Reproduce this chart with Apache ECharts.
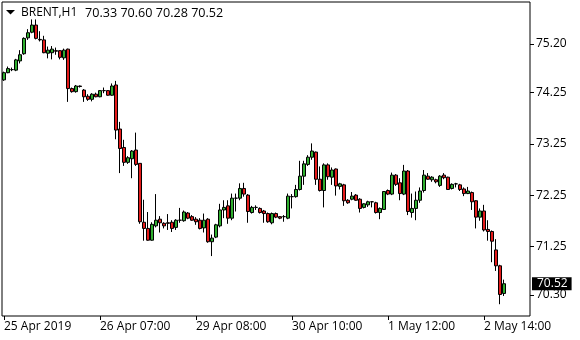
<!DOCTYPE html>
<html><head><meta charset="utf-8">
<script src="https://cdn.jsdelivr.net/npm/echarts@6/dist/echarts.min.js"></script>
<style>html,body{margin:0;padding:0;background:#fff}#c{width:580px;height:340px}</style>
</head><body><div id="c"></div>
<script>
const symbolName = 'BRENT,H1';
const opens = [74.50,74.64,74.70,74.69,74.87,75.01,75.32,75.43,75.57,75.29,75.28,75.02,75.03,75.07,75.07,74.93,75.10,74.33,74.27,74.38,74.30,74.18,74.12,74.22,74.17,74.29,74.29,74.20,74.40,73.54,73.18,72.89,72.96,73.13,72.87,71.72,71.60,71.37,71.65,71.78,71.70,71.71,71.72,71.62,71.76,71.75,71.90,71.83,71.78,71.76,71.61,71.78,71.34,71.43,71.65,71.96,72.04,71.80,72.19,72.19,72.38,72.25,71.91,72.01,71.99,71.94,71.89,71.71,71.89,71.83,71.83,71.80,72.22,72.22,72.36,72.62,72.85,72.99,73.09,72.56,72.34,72.84,72.60,72.76,72.42,72.45,72.15,72.17,72.25,72.17,72.01,72.06,72.12,72.10,71.91,71.97,72.34,72.27,72.64,72.49,72.27,72.72,71.91,71.99,72.15,72.34,72.62,72.55,72.55,72.44,72.64,72.60,72.38,72.47,72.45,72.37,72.28,72.30,72.14,71.82,71.94,71.58,71.54,71.18,70.87,70.33];
const highs = [74.66,74.76,74.74,74.91,75.08,75.33,75.49,75.68,75.68,75.45,75.36,75.15,75.16,75.13,75.08,75.11,75.11,74.35,74.40,74.39,74.32,74.22,74.24,74.25,74.30,74.35,74.30,74.43,74.48,73.68,73.33,73.01,73.13,73.47,72.87,72.16,71.92,71.72,72.27,71.84,71.72,71.88,71.76,71.78,72.00,71.95,71.92,71.86,71.82,71.80,71.89,71.80,71.48,71.69,72.08,72.15,72.15,72.28,72.28,72.48,72.49,72.27,72.04,72.05,72.01,71.96,71.91,71.91,71.91,71.84,71.86,72.28,72.27,72.45,72.92,72.92,73.03,73.26,73.10,72.81,72.87,72.87,72.79,72.77,72.49,72.47,72.17,72.31,72.27,72.19,72.09,72.14,72.12,72.12,72.01,72.33,72.36,72.69,72.66,72.58,72.84,72.74,72.28,72.32,72.40,72.74,72.68,72.62,72.57,72.64,72.68,72.61,72.48,72.49,72.47,72.40,72.41,72.32,72.15,71.99,72.06,71.76,71.56,71.39,70.89,70.60];
const lows = [74.48,74.63,74.67,74.67,74.82,74.99,75.28,75.41,75.29,75.25,75.02,74.92,74.90,74.99,74.90,74.89,74.07,74.25,74.25,74.35,74.07,74.09,74.08,74.16,74.16,74.24,74.19,74.19,73.34,72.68,72.82,72.86,72.58,72.82,71.69,71.36,71.36,71.36,71.62,71.52,71.60,71.57,71.53,71.57,71.71,71.73,71.78,71.75,71.67,71.58,71.52,71.32,71.06,71.41,71.62,71.80,71.69,71.76,71.93,72.15,72.22,71.71,71.89,71.96,71.89,71.71,71.71,71.68,71.80,71.78,71.73,71.78,71.99,72.20,72.34,72.45,72.82,72.94,72.45,72.32,72.01,72.55,72.45,72.24,72.36,72.04,72.08,72.15,72.14,71.91,71.99,72.02,72.01,71.89,71.78,71.96,72.25,72.25,72.43,72.15,72.25,71.86,71.81,71.76,72.10,72.30,72.55,72.51,72.48,72.41,72.56,72.35,72.36,72.40,72.33,72.23,72.27,71.96,71.60,71.75,71.54,71.36,70.94,70.77,70.12,70.28];
const closes = [74.64,74.72,74.70,74.89,74.99,75.31,75.42,75.57,75.31,75.28,75.03,75.08,75.10,75.06,74.94,75.08,74.33,74.27,74.38,74.37,74.17,74.12,74.22,74.17,74.29,74.29,74.20,74.38,73.52,73.16,72.89,72.98,73.11,72.85,71.73,71.60,71.37,71.68,71.76,71.71,71.65,71.70,71.60,71.76,71.76,71.92,71.80,71.76,71.73,71.60,71.76,71.34,71.41,71.67,71.96,72.01,71.80,72.19,72.19,72.38,72.27,71.93,72.01,72.01,71.91,71.89,71.73,71.89,71.82,71.80,71.83,72.23,72.22,72.36,72.62,72.86,72.99,73.11,72.56,72.34,72.84,72.61,72.74,72.43,72.47,72.14,72.10,72.23,72.15,71.99,72.08,72.12,72.12,71.91,71.99,72.32,72.27,72.64,72.46,72.28,72.72,71.93,71.99,72.15,72.33,72.64,72.56,72.60,72.51,72.62,72.59,72.36,72.46,72.47,72.36,72.28,72.33,72.12,71.82,71.94,71.57,71.54,71.35,70.87,70.31,70.52];
const slotCount = 132;
const tickIndex = [0, 24, 48, 72, 96, 120];
const tickLabels = ['25 Apr 2019', '26 Apr 07:00', '29 Apr 08:00', '30 Apr 10:00', '1 May 12:00', '2 May 14:00'];
const priceTicks = [75.20, 74.25, 73.25, 72.25, 71.25, 70.30];
const yMin = 69.89, yMax = 76.02;

const categories = Array.from({length: slotCount}, (_, i) => String(i));
const candles = opens.map((o, i) => [o, closes[i], lows[i], highs[i]]);
const last = opens.length - 1;
const FONT = 'Open Sans';
const showTick = (idx) => tickIndex.includes(idx);

const chart = echarts.init(document.getElementById('c'), null, {renderer: 'canvas'});
chart.setOption({
  animation: false,
  backgroundColor: '#fff',
  grid: {left: 2, right: 50, top: 2, bottom: 24, show: true, borderColor: '#000', borderWidth: 1, backgroundColor: '#fff'},
  xAxis: {
    type: 'category', data: categories, boundaryGap: true,
    axisLine: {show: false},
    axisTick: {show: true, alignWithLabel: true, interval: (i) => showTick(i), length: 4, lineStyle: {color: '#000'}},
    axisLabel: {
      interval: (i) => showTick(i), align: 'left', margin: 5,
      color: '#000', fontFamily: FONT, fontSize: 12,
      formatter: (v, i) => { const k = tickIndex.indexOf(Number(v)); return k >= 0 ? tickLabels[k] : ''; }
    },
    splitLine: {show: false}
  },
  yAxis: {
    type: 'value', position: 'right', min: yMin, max: yMax, scale: true,
    axisLine: {show: false},
    splitLine: {show: false},
    axisTick: {show: true, customValues: priceTicks, length: 4, lineStyle: {color: '#000'}},
    axisLabel: {customValues: priceTicks, color: '#000', fontFamily: FONT, fontSize: 12, margin: 6,
      formatter: (v) => Number(v).toFixed(2)}
  },
  series: [{
    type: 'candlestick',
    data: candles,
    barWidth: 3,
    itemStyle: {color: '#2fae2f', color0: '#e41b1b', borderColor: '#000', borderColor0: '#000', borderColorDoji: '#000', borderWidth: 1},
    markLine: {
      silent: true, symbol: 'none',
      lineStyle: {width: 0, color: 'rgba(0,0,0,0)', type: 'solid'},
      emphasis: {disabled: true},
      data: [{yAxis: closes[last]}],
      label: {show: true, position: 'end', distance: 2, formatter: closes[last].toFixed(2), opacity: 1,
        color: '#fff', backgroundColor: '#000', padding: [1, 4, 0, 5], fontFamily: FONT, fontSize: 12}
    }
  }],
  graphic: [
    {type: 'polygon', shape: {points: [[6, 10], [15, 10], [10.5, 14.5]]}, style: {fill: '#000'}, z: 100},
    {type: 'text', x: 21, y: 13, z: 100, style: {text: symbolName, fill: '#000', font: '12px "Open Sans"', textVerticalAlign: 'middle'}},
    {type: 'text', x: 85, y: 13, z: 100, style: {text: [opens[last], highs[last], lows[last], closes[last]].map(v => v.toFixed(2)).join(' '), fill: '#000', font: '12.6px "Open Sans"', textVerticalAlign: 'middle'}}
  ]
});
</script></body></html>
